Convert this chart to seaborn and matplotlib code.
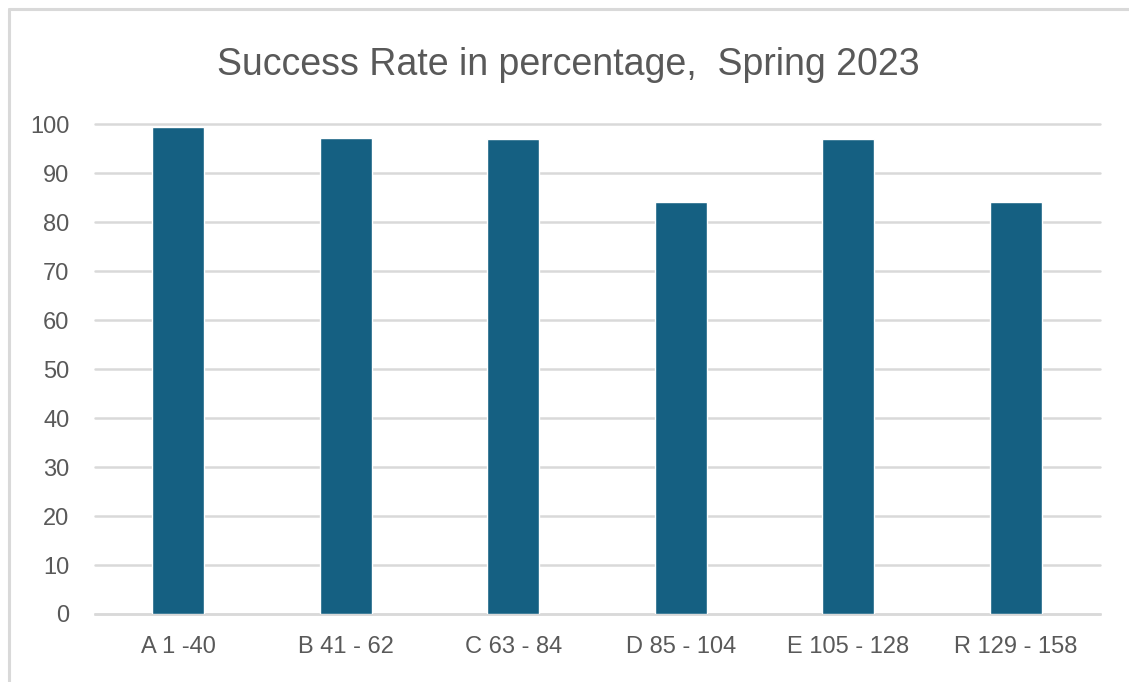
import matplotlib
matplotlib.use("Agg")
import matplotlib.pyplot as plt
import seaborn as sns
import pandas as pd
from matplotlib.lines import Line2D

categories = ["A 1 -40", "B 41 - 62", "C 63 - 84", "D 85 - 104", "E 105 - 128", "R 129 - 158"]
success_rate = [99.4, 97.3, 97.0, 84.1, 97.0, 84.1]
y_ticks = [0, 10, 20, 30, 40, 50, 60, 70, 80, 90, 100]
title = "Success Rate in percentage,  Spring 2023"

sns.set_theme(style="white")
plt.rcParams['font.family'] = ['Liberation Sans', 'DejaVu Sans']

df = pd.DataFrame({"cat": categories, "val": success_rate})

W, H = 1129, 682
fig = plt.figure(figsize=(W / 100, H / 100), dpi=100)
ax = fig.add_axes([94.5 / W, 1 - 614 / H, 1005 / W, (614 - 124.5) / H])

sns.barplot(data=df, x="cat", y="val", color="#156082", width=0.31,
            saturation=1, ax=ax, zorder=3)

ax.set_ylim(0, 100)
ax.set_xlim(-0.5, len(categories) - 0.5)
ax.set_yticks(y_ticks)
ax.set_yticklabels([str(t) for t in y_ticks])
ax.grid(axis="y", color="#d9d9d9", linewidth=1.8, zorder=0)
for gl in ax.yaxis.get_gridlines():
    gl.set_clip_on(False)
ax.set_axisbelow(True)
for s in ["top", "right", "left"]:
    ax.spines[s].set_visible(False)
ax.spines["bottom"].set_color("#d9d9d9")
ax.spines["bottom"].set_linewidth(1.8)
ax.set_xlabel("")
ax.set_ylabel("")
ax.tick_params(axis="both", length=0, labelsize=17, colors="#595959")
ax.tick_params(axis="x", pad=16)
ax.tick_params(axis="y", pad=18)

fig.text(568 / W, 1 - 75 / H, title, ha="center", va="baseline", fontsize=27, color="#595959")

# chart frame (top and left edges visible)
fig.add_artist(Line2D([8.5 / W, 1.0], [1 - 8.5 / H, 1 - 8.5 / H], transform=fig.transFigure,
                      color="#d9d9d9", linewidth=2.2))
fig.add_artist(Line2D([8.5 / W, 8.5 / W], [0.0, 1 - 8.5 / H], transform=fig.transFigure,
                      color="#d9d9d9", linewidth=2.2))

fig.savefig("out.png", dpi=100)
